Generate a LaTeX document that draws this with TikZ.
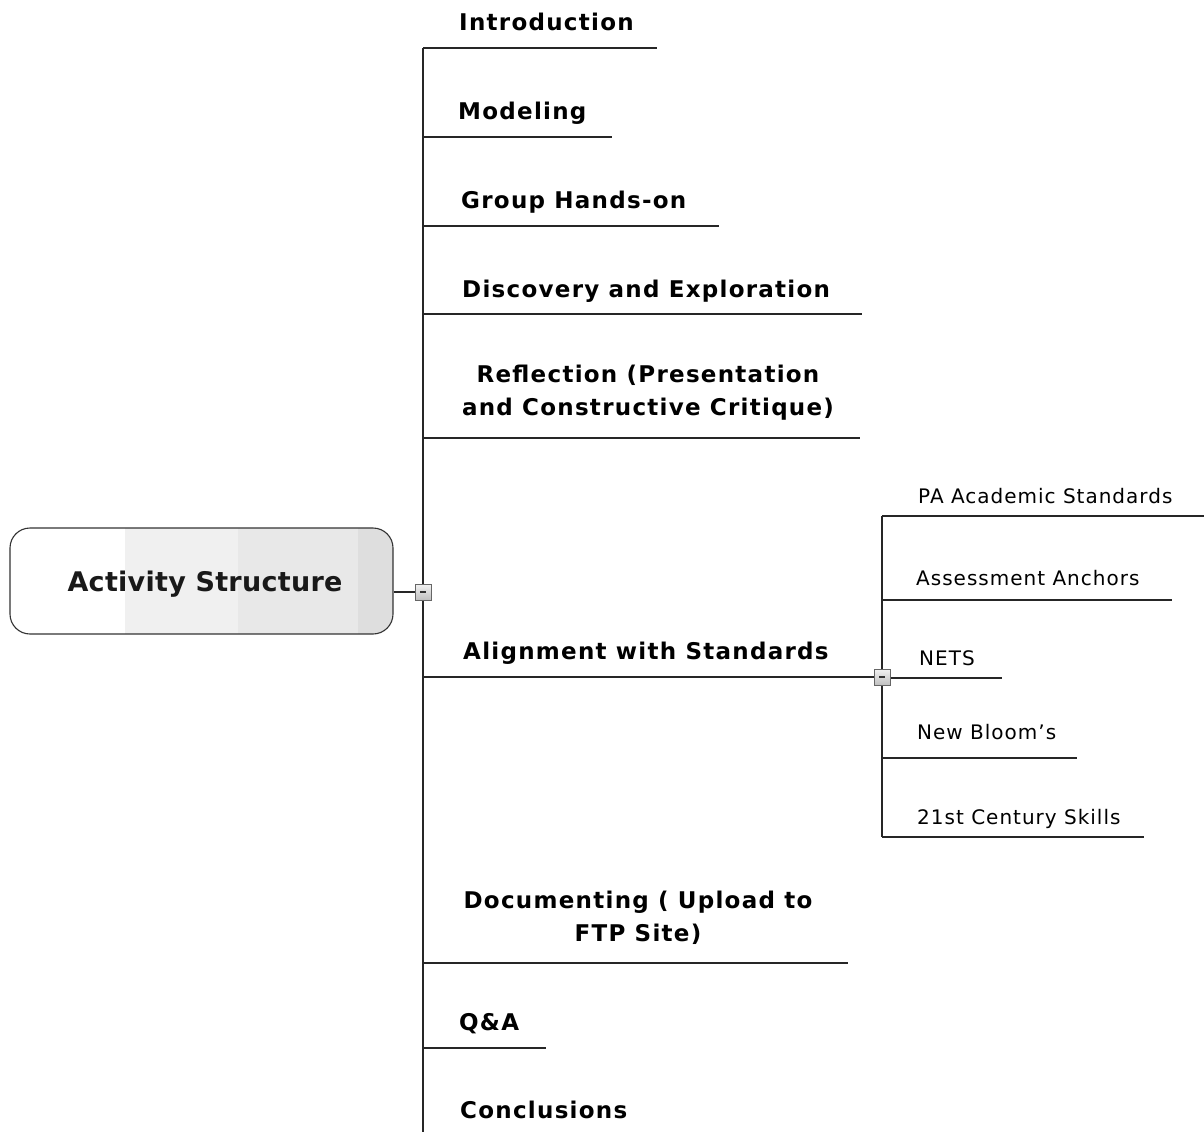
\documentclass[tikz,border=0pt]{standalone}
\usepackage{fontspec}
\setmainfont{DejaVu Sans}
\begin{document}
\begin{tikzpicture}[x=1pt,y=-1pt,
  branchline/.style={line width=1.2pt,black!85},
  maintext/.style={font=\bfseries\fontsize{23}{33}\selectfont\addfontfeatures{LetterSpace=5.5},inner sep=0pt,anchor=base west,align=center},
  subtext/.style={font=\fontsize{20}{23}\selectfont\addfontfeatures{LetterSpace=5},inner sep=0pt,anchor=base west},
  togglebox/.style={draw=black!60,line width=0.8pt,top color=black!5,bottom color=black!25,minimum size=16pt,inner sep=0pt,
    path picture={\draw[black!80,line width=1.2pt] ([xshift=-3pt]path picture bounding box.center) -- ([xshift=3pt]path picture bounding box.center);}}
]
\useasboundingbox (0,0) rectangle (1204,1132);
% central node
\begin{scope}
\clip[rounded corners=20pt] (10,528) rectangle (393,634);
\fill[white] (10,528) rectangle (125,634);
\fill[black!6] (125,528) rectangle (238,634);
\fill[black!9] (238,528) rectangle (358,634);
\fill[black!13] (358,528) rectangle (393,634);
\end{scope}
\node[draw=black!80,line width=1.1pt,rounded corners=20pt,minimum width=383pt,minimum height=106pt] (root) at (201.5,581) {};
\node[font=\bfseries\fontsize{27}{32}\selectfont\addfontfeatures{LetterSpace=1},text=black!90,inner sep=0pt,anchor=base] (roottext) at (205,591) {Activity Structure};
% trunk
\coordinate (ttop) at (423,48);
\coordinate (tbot) at (423,1132);
\draw[branchline] (ttop) -- (tbot);
\node[togglebox] (tog) at (423,592) {};
\draw[branchline] (root.east |- tog) -- (tog);
% main branches
\foreach \nm/\y/\xe in {b1/48/657,b2/137/612,b3/226/719,b4/314/862,b5/438/860,b6/677/875,b7/963/848,b8/1048/546}{
  \coordinate (\nm s) at (423,\y);
  \coordinate (\nm e) at (\xe,\y);
  \draw[branchline] (\nm s) -- (\nm e);
}
\node[maintext] (n1) at (459,31) {Introduction};
\node[maintext] (n2) at (458,119) {Modeling};
\node[maintext] (n3) at (461,208) {Group Hands-on};
\node[maintext] (n4) at (462,297) {Discovery and Exploration};
\node[maintext,anchor=center] (n5) at (648,393) {Reflection (Presentation\\and Constructive Critique)};
\node[maintext] (n6) at (463,659) {Alignment with Standards};
\node[maintext,anchor=center] (n7) at (638,918) {Documenting ( Upload to\\FTP Site)};
\node[maintext] (n8) at (459,1030) {Q\&A};
\node[maintext] (n9) at (460,1118) {Conclusions};
% sub branch
\coordinate (stop) at (882,516);
\coordinate (sbot) at (882,837);
\draw[branchline] (stop) -- (sbot);
\foreach \nm/\y/\xe in {s1/516/1204,s2/600/1172,s3/678/1002,s4/758/1077,s5/837/1144}{
  \coordinate (\nm s) at (882,\y);
  \coordinate (\nm e) at (\xe,\y);
  \draw[branchline] (\nm s) -- (\nm e);
}
\node[togglebox] (tog2) at (882,677) {};
\node[subtext] (m1) at (918,503) {PA Academic Standards};
\node[subtext] (m2) at (916,585) {Assessment Anchors};
\node[subtext] (m3) at (919,665) {NETS};
\node[subtext] (m4) at (917,739) {New Bloom’s};
\node[subtext] (m5) at (917,824) {21st Century Skills};
\end{tikzpicture}
\end{document}
